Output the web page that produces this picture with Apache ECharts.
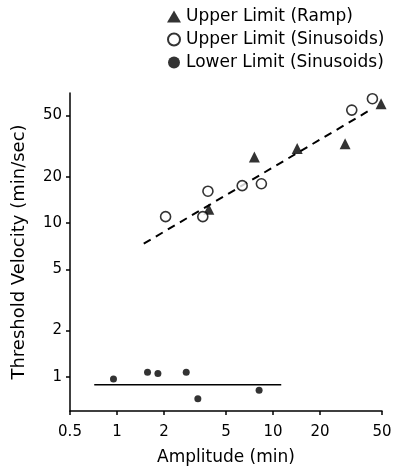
<!DOCTYPE html>
<html>
<head>
<meta charset="utf-8">
<script src="https://cdn.jsdelivr.net/npm/echarts@6/dist/echarts.min.js"></script>
<style>html,body{margin:0;padding:0;background:#fff;}#c{width:393px;height:467px;}</style>
</head>
<body>
<div id="c"></div>
<script>
var xTicks = [0.5, 1, 2, 5, 10, 20, 50];
var yTicks = [1, 2, 5, 10, 20, 50];
var rampUpper = [[3.88, 12.3], [7.6, 26.9], [14.3, 30.5], [29.0, 32.7], [49.3, 59.6]];
var sinUpper = [[2.05, 11.0], [3.55, 11.0], [3.83, 16.1], [6.35, 17.5], [8.43, 18.0], [32.0, 54.2], [43.4, 64.3]];
var sinLower = [[0.95, 0.97], [1.57, 1.07], [1.83, 1.05], [2.78, 1.07], [3.30, 0.72], [8.15, 0.82]];
var upperFit = [[1.485, 7.34], [42.5, 54.7]];
var lowerFit = [[0.715, 0.89], [11.3, 0.89]];

var FONT = 'DejaVu Sans';
var chart = echarts.init(document.getElementById('c'));
chart.setOption({
  animation: false,
  backgroundColor: '#fff',
  textStyle: {fontFamily: FONT, color: '#000'},
  legend: {
    orient: 'vertical', left: 162, top: 3, itemGap: 6, itemWidth: 14, itemHeight: 12,
    textStyle: {fontFamily: FONT, fontSize: 17, color: '#000'},
    data: ['Upper Limit (Ramp)', 'Upper Limit (Sinusoids)', 'Lower Limit (Sinusoids)']
  },
  grid: {left: 70, right: 11, top: 93, bottom: 56, outerBoundsMode: 'none', containLabel: false},
  xAxis: {
    type: 'log', min: 0.5, max: 50,
    name: 'Amplitude (min)', nameLocation: 'middle', nameGap: 38,
    nameTextStyle: {fontFamily: FONT, fontSize: 17, color: '#000'},
    axisLine: {lineStyle: {color: '#000', width: 1.5}},
    axisTick: {customValues: xTicks, length: 4, lineStyle: {color: '#000', width: 1.5}},
    axisLabel: {customValues: xTicks, margin: 14, fontFamily: FONT, fontSize: 15, color: '#000'},
    splitLine: {show: false}, minorTick: {show: false}
  },
  yAxis: {
    type: 'log', min: 0.6, max: 70,
    name: 'Threshold Velocity (min/sec)', nameLocation: 'middle', nameGap: 42,
    nameTextStyle: {fontFamily: FONT, fontSize: 18, color: '#000'},
    axisLine: {lineStyle: {color: '#000', width: 1.5}},
    axisTick: {customValues: yTicks, length: 4, lineStyle: {color: '#000', width: 1.5}},
    axisLabel: {customValues: yTicks, margin: 8, fontFamily: FONT, fontSize: 15, color: '#000'},
    splitLine: {show: false}, minorTick: {show: false}
  },
  series: [
    {name: 'Upper Limit (Ramp)', type: 'scatter', data: rampUpper, symbol: 'triangle', symbolSize: 11,
     itemStyle: {color: '#000'}},
    {name: 'Upper Limit (Sinusoids)', type: 'scatter', data: sinUpper, symbol: 'circle', symbolSize: 10,
     itemStyle: {color: '#fff', borderColor: '#000', borderWidth: 1.6}},
    {name: 'Lower Limit (Sinusoids)', type: 'scatter', data: sinLower, symbol: 'circle', symbolSize: 7,
     itemStyle: {color: '#000'}},
    {type: 'line', data: upperFit, symbol: 'none', z: 1,
     lineStyle: {color: '#000', width: 2, type: [8, 6]}},
    {type: 'line', data: lowerFit, symbol: 'none', z: 1,
     lineStyle: {color: '#000', width: 1.5}}
  ]
});
</script>
</body>
</html>
